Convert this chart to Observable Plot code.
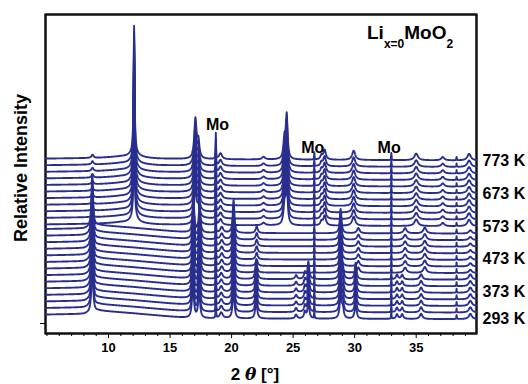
<!DOCTYPE html>
<html><head><meta charset="utf-8">
<script src="https://cdn.jsdelivr.net/npm/d3@7"></script>
<script src="https://cdn.jsdelivr.net/npm/@observablehq/plot@0.6"></script>
<style>body{margin:0;background:#fff} svg{display:block}</style>
</head><body><div id="chart"></div>
<script>
// Temperatures of the 25 stacked patterns (bottom to top)
const temperatures = [293,313,333,353,373,393,413,433,453,473,493,513,533,553,573,593,613,633,653,673,693,713,733,753,773];
// Phase seen in each pattern
const phaseOfTrace = ["A","A","A","A","A","A","A","B","B","B","B","B","B","B","C","C","C","C","C","C","C","C","C","C","C"];
const labelledTemps = [293,373,473,573,673,773];

// Peaks: [2θ position (°), height (trace-spacing units), FWHM (°)]
const peaksA = [
  [8.68,8.0,0.15],[16.86,5.5,0.17],[17.36,4.5,0.17],[18.72,3.2,0.04],[19.16,0.9,0.3],
  [20.16,5.0,0.16],[22.0,3.0,0.17],[25.24,0.6,0.2],[25.96,1.0,0.18],[26.24,2.6,0.17],
  [26.72,1.2,0.04],[28.86,4.0,0.17],[29.04,1.5,0.17],[30.08,2.5,0.17],[32.98,1.2,0.04],
  [33.44,0.7,0.2],[33.86,0.7,0.2],[35.4,0.8,0.25],[38.28,0.6,0.04],[39.4,0.8,0.3]
];
const peaksB = [
  [8.68,8.0,0.15],[16.9,5.0,0.17],[17.4,4.0,0.17],[18.72,3.2,0.04],[19.2,0.9,0.3],
  [20.16,5.0,0.16],[22.04,1.0,0.2],[26.72,1.2,0.04],[28.86,3.7,0.17],[30.3,0.8,0.25],
  [32.98,1.2,0.04],[34.1,0.8,0.3],[35.7,0.9,0.3],[38.28,0.6,0.04],[39.4,0.5,0.3]
];
const peaksC = [
  [8.7,0.5,0.2],[12.08,19.0,0.09],[12.08,1.0,0.7],[17.06,6.0,0.22],[17.3,2.5,0.2],
  [18.72,3.9,0.04],[19.1,0.9,0.3],[22.6,0.4,0.3],[24.3,3.0,0.2],[24.48,6.5,0.17],
  [26.72,1.1,0.04],[27.3,0.6,0.2],[27.56,1.5,0.25],[29.92,1.4,0.3],[32.98,1.1,0.04],
  [35.0,1.0,0.35],[37.16,0.5,0.3],[38.28,0.5,0.04],[39.3,1.0,0.35]
];
// Background level knots: [2θ, level]
const backgroundAB = [[4.88,0.6],[8.0,0.7],[9.2,1.2],[12,0.8],[15,0.3],[17,0],[40,-0.1]];
const backgroundC  = [[4.88,0.3],[9,0.4],[11,0.6],[14,0.3],[17,0.2],[40,0]];

const xDomain = [4.88,39.9];
const yDomain = [-2.28,46.2];
const xTicks = [10,15,20,25,30,35];
const minorTicks = [5,6,7,8,9,11,12,13,14,16,17,18,19,21,22,23,24,26,27,28,29,31,32,33,34,36,37,38,39];
const moLabelX = [18.85,26.6,32.8];
const moLabelY = [29.5,25.9,25.9];

const peakTables = {A: peaksA, B: peaksB, C: peaksC};
const bgTables = {A: backgroundAB, B: backgroundAB, C: backgroundC};
function bgAt(tab, x){
  for (let k=0;k<tab.length-1;k++){
    const [x0,y0]=tab[k],[x1,y1]=tab[k+1];
    if (x>=x0 && x<=x1) return y0+(y1-y0)*(x-x0)/(x1-x0);
  }
  return tab[tab.length-1][1];
}
const rows = [];
temperatures.forEach((T,i)=>{
  const ph = phaseOfTrace[i], pk = peakTables[ph], bg = bgTables[ph];
  for (let s=0; s<=1751; s++){
    const t = Math.round((4.88 + s*0.02)*100)/100;
    let v = i + bgAt(bg,t);
    for (const [p,h,w] of pk){ const d=(t-p)/(w/2); v += h/(1+d*d); }
    rows.push({T, t, v});
  }
});
const labelRows = labelledTemps.map(T=>({label:T+" K", offset: temperatures.indexOf(T)}));
const moRows = moLabelX.map((x,k)=>({x, y: moLabelY[k]}));
// the plot box as a closed outline in data coordinates (domain corners)
const boxOutline = [
  {x:xDomain[0],y:yDomain[0]},{x:xDomain[1],y:yDomain[0]},{x:xDomain[1],y:yDomain[1]},
  {x:xDomain[0],y:yDomain[1]},{x:xDomain[0],y:yDomain[0]}
];

const color = "#292e8e";
const font = "'Liberation Sans', Arial, Helvetica, sans-serif";
const plot = Plot.plot({
  width:528, height:384,
  marginLeft:45, marginRight:52, marginTop:14, marginBottom:51,
  x:{domain:xDomain},
  y:{domain:yDomain},
  style:{fontFamily:font, fontSize:"13px"},
  marks:[
    Plot.frame({stroke:"#111",strokeWidth:2}),
    Plot.line(boxOutline,{x:"x",y:"y",stroke:"#111",strokeWidth:2}),
    Plot.line(rows,{x:"t",y:"v",z:"T",stroke:color,strokeWidth:1.9}),
    Plot.axisX({ticks:minorTicks,tickSize:3,tickFormat:()=>"",label:null}),
    Plot.axisX({ticks:xTicks,tickSize:5,tickPadding:4,fontSize:13,fontWeight:"bold",label:null}),
    Plot.axisY({ticks:[-0.76],tickSize:5,tickFormat:()=>"",label:null}),
    Plot.text(labelRows,{y:"offset",text:"label",frameAnchor:"right",textAnchor:"start",dx:6,fontSize:16,fontWeight:"bold",fill:"black"}),
    Plot.text(moRows,{x:"x",y:"y",text:()=>"Mo",fontSize:16,fontWeight:"bold",fill:"black"})
  ]
});
document.getElementById("chart").appendChild(plot);
const svg = d3.select(plot);
svg.append("text").attr("transform","translate(27,168) rotate(-90)").attr("text-anchor","middle")
  .attr("font-size",18).attr("font-weight","bold").attr("fill","black").text("Relative Intensity");
const xl = svg.append("text").attr("x",255).attr("y",380).attr("text-anchor","middle")
  .attr("font-size",17).attr("font-weight","bold").attr("fill","black");
xl.append("tspan").text("2 ");
xl.append("tspan").attr("font-style","italic").attr("font-family","'DejaVu Serif', serif").text("θ");
xl.append("tspan").text(" [°]");
const tl = svg.append("text").attr("x",367).attr("y",39).attr("text-anchor","start")
  .attr("font-size",19).attr("font-weight","bold").attr("fill","black");
tl.append("tspan").text("Li");
tl.append("tspan").attr("font-size",12).attr("dy",9).text("x=0");
tl.append("tspan").attr("dy",-9).text("MoO");
tl.append("tspan").attr("font-size",12).attr("dy",9).text("2");
</script></body></html>
